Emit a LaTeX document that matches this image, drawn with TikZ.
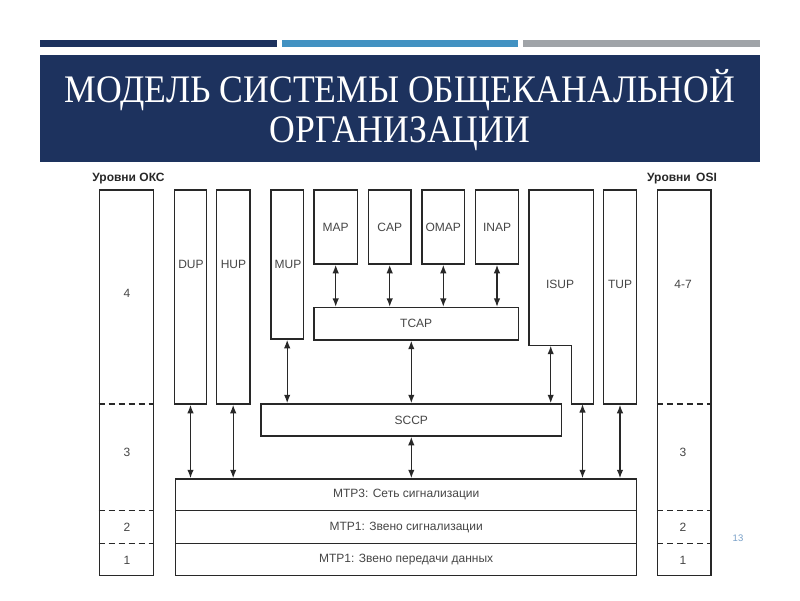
\documentclass[tikz,border=0pt]{standalone}
\usepackage{fontspec}
\setmainfont{Liberation Serif}
\newfontfamily\diagfont{Liberation Sans}
\usetikzlibrary{arrows.meta}
\definecolor{navy}{RGB}{29,50,94}
\definecolor{barblue}{RGB}{66,146,194}
\definecolor{bargray}{RGB}{160,164,168}
\definecolor{lin}{RGB}{40,40,40}
\definecolor{txt}{RGB}{70,70,70}
\definecolor{pgnum}{RGB}{120,160,200}
\tikzset{
  box/.style={draw=lin, line width=1.5pt, fill=white, inner sep=0pt, font=\diagfont\fontsize{12}{14}\selectfont, text=txt},
  lbl/.style={inner sep=0pt, font=\diagfont\fontsize{12}{14}\selectfont, text=txt},
  hdr/.style={inner sep=0pt, font=\diagfont\bfseries\fontsize{12}{14}\selectfont, text=lin},
  dline/.style={draw=lin, line width=1.5pt, dash pattern=on 6pt off 4pt},
  arr/.style={draw=lin, line width=1.4pt, {Latex[length=8.5pt,width=6.5pt]}-{Latex[length=8.5pt,width=6.5pt]}},
}
\begin{document}
\begin{tikzpicture}[x=1pt,y=-1pt]
\useasboundingbox (0,0) rectangle (800,600);
\fill[white] (0,0) rectangle (800,600);
% top bars
\fill[navy] (40,40) rectangle (277,47);
\fill[barblue] (282,40) rectangle (518,47);
\fill[bargray] (523,40) rectangle (760,47);
% title box
\fill[navy] (40,55) rectangle (760,162);
\node[text=white, font=\fontsize{39}{40}\selectfont, align=center, inner sep=0pt, xscale=0.914] (title) at (400,110)
  {МОДЕЛЬ СИСТЕМЫ ОБЩЕКАНАЛЬНОЙ\\ОРГАНИЗАЦИИ};
% headers
\node[hdr] (hl) at (128.5,179) {Уровни ОКС};
\node[hdr] (hr) at (682,179) {Уровни\ \,OSI};
% left levels column
\node[box, minimum width=54pt, minimum height=385.3pt] (lev) at (126.3,382.65) {};
\draw[dline] (lev.west |- 0,404) -- (lev.east |- 0,404);
\draw[dline] (lev.west |- 0,510.7) -- (lev.east |- 0,510.7);
\draw[dline] (lev.west |- 0,543.5) -- (lev.east |- 0,543.5);
\node[lbl] (l4) at (127,293) {4};
\node[lbl] (l3) at (127,452) {3};
\node[lbl] (l2) at (127,527) {2};
\node[lbl] (l1) at (127,560) {1};
% right OSI column
\node[box, minimum width=53.3pt, minimum height=385.3pt] (osi) at (684.3,382.65) {};
\draw[dline] (osi.west |- 0,404) -- (osi.east |- 0,404);
\draw[dline] (osi.west |- 0,510.7) -- (osi.east |- 0,510.7);
\draw[dline] (osi.west |- 0,543.5) -- (osi.east |- 0,543.5);
\node[lbl] (r47) at (683,284) {4-7};
\node[lbl] (r3) at (683,452) {3};
\node[lbl] (r2) at (683,527) {2};
\node[lbl] (r1) at (683,560) {1};
% DUP, HUP, MUP
\node[box, minimum width=32.4pt, minimum height=214pt] (dup) at (190.5,297) {};
\node[lbl] at (191,264) {DUP};
\node[box, minimum width=33.7pt, minimum height=214pt] (hup) at (233.2,297) {};
\node[lbl] at (233.5,264) {HUP};
\node[box, minimum width=32.3pt, minimum height=149pt] (mup) at (287.2,264.5) {};
\node[lbl] at (288,264) {MUP};
% MAP CAP OMAP INAP
\node[box, minimum width=43.3pt, minimum height=74pt] (map) at (335.7,227) {MAP};
\node[box, minimum width=42.7pt, minimum height=74pt] (cap) at (389.7,227) {CAP};
\node[box, minimum width=42.7pt, minimum height=74pt] (omap) at (443.3,227) {OMAP};
\node[box, minimum width=42.7pt, minimum height=74pt] (inap) at (497,227) {INAP};
% TCAP
\node[box, minimum width=204.3pt, minimum height=32.3pt] (tcap) at (416.2,323.8) {TCAP};
% ISUP (stepped shape)
\draw[lin, line width=1.5pt, fill=white] (529,190) -- (593.3,190) -- (593.3,404) -- (571.7,404) -- (571.7,345.7) -- (529,345.7) -- cycle;
\coordinate (isupstep) at (550.7,345.7);
\coordinate (isupbot) at (582.5,404);
\node[lbl] (isup) at (560,284) {ISUP};
% TUP
\node[box, minimum width=33.4pt, minimum height=214pt] (tup) at (620,297) {};
\node[lbl] at (620,284) {TUP};
% SCCP
\node[box, minimum width=300.7pt, minimum height=32pt] (sccp) at (411.3,420) {SCCP};
% MTP stack
\node[box, minimum width=461pt, minimum height=31.7pt] (mtp3) at (406.2,494.85) {MTP3: Сеть сигнализации};
\node[box, minimum width=461pt, minimum height=32.8pt] (mtp2) at (406.2,527.1) {MTP1: Звено сигнализации};
\node[box, minimum width=461pt, minimum height=31.8pt] (mtp1) at (406.2,559.4) {MTP1: Звено передачи данных};
% arrows
\draw[arr] (map.south) -- (map.south |- tcap.north);
\draw[arr] (cap.south) -- (cap.south |- tcap.north);
\draw[arr] (omap.south) -- (omap.south |- tcap.north);
\draw[arr] (inap.south) -- (inap.south |- tcap.north);
\draw[arr] (mup.south) -- (mup.south |- sccp.north);
\draw[arr] (tcap.south -| sccp.north) -- (sccp.north);
\draw[arr] (isupstep) -- (isupstep |- sccp.north);
\draw[arr] (sccp.south) -- (sccp.south |- mtp3.north);
\draw[arr] (dup.south) -- (dup.south |- mtp3.north);
\draw[arr] (hup.south) -- (hup.south |- mtp3.north);
\draw[arr] (isupbot) -- (isupbot |- mtp3.north);
\draw[arr] (tup.south) -- (tup.south |- mtp3.north);
% page number
\node[text=pgnum, inner sep=0pt, font=\diagfont\fontsize{9.5}{11}\selectfont] (pg) at (738,538) {13};
\end{tikzpicture}
\end{document}
